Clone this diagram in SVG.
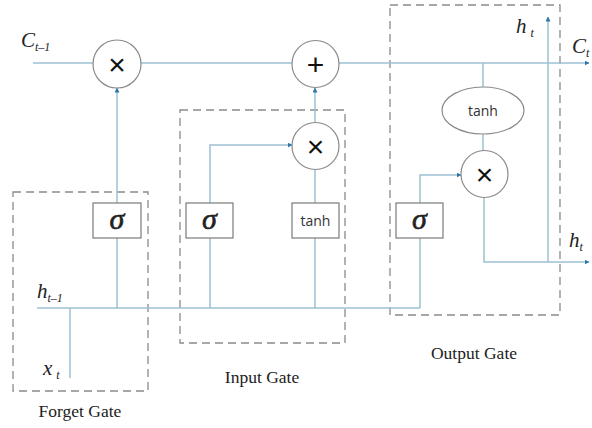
<svg xmlns="http://www.w3.org/2000/svg" width="592" height="428" viewBox="0 0 592 428">
<defs>
<marker id="arr" viewBox="0 0 10 10" refX="9" refY="5" markerWidth="5" markerHeight="5" orient="auto" markerUnits="userSpaceOnUse">
<path d="M0,0 L10,5 L0,10 z" fill="#2f77a6"/>
</marker>
</defs>
<style>
.ln{fill:none;stroke:#9cc0d4;stroke-width:1.5}
.ar{marker-end:url(#arr)}
.gate{fill:none;stroke:#8a8a8a;stroke-width:1.3;stroke-dasharray:8 5}
.op{fill:#fff;stroke:#8a8a8a;stroke-width:1.2}
.box{fill:#fff;stroke:#7a7a7a;stroke-width:1.2}
.sym{font-family:"Liberation Sans",Arial,sans-serif;font-size:30px;fill:#111;text-anchor:middle}
.sig{font-family:"Liberation Serif","Times New Roman",serif;font-style:italic;font-size:30px;fill:#222;stroke:#222;stroke-width:0.6;text-anchor:middle}
.tanh{font-family:"Open Sans","Liberation Sans",sans-serif;font-size:14px;fill:#333;text-anchor:middle}
.mth{font-family:"Liberation Serif","Times New Roman",serif;font-style:italic;font-size:21px;fill:#222}
.sub{font-family:"Liberation Serif","Times New Roman",serif;font-style:italic;font-size:12px;fill:#222}
.cap{font-family:"Liberation Serif","Times New Roman",serif;font-size:17.5px;fill:#222;text-anchor:middle}
</style>
<rect width="592" height="428" fill="#fff"/>
<g id="gates">
<rect id="forget-gate" class="gate" x="13" y="192" width="135" height="199"/>
<rect id="input-gate" class="gate" x="180" y="110" width="165" height="233"/>
<rect id="output-gate" class="gate" x="390" y="5" width="170" height="310"/>
</g>
<g id="connectors">
<path class="ln ar" d="M33,63 H589"/>
<path class="ln" d="M37,308 H420"/>
<path class="ln" d="M70,308 V378"/>
<path class="ln ar" d="M117,308 V88"/>
<path class="ln ar" d="M210,308 V145 H292"/>
<path class="ln" d="M315,308 V170"/>
<path class="ln ar" d="M315,122 V88"/>
<path class="ln ar" d="M420,308 V175 H461"/>
<path class="ln" d="M483,63 V151"/>
<path class="ln ar" d="M484,197 V262 H589"/>
<path class="ln ar" d="M548,262 V17"/>
</g>
<g id="forget-mul"><circle class="op" cx="117" cy="64" r="24"/><text class="sym" x="117" y="75">×</text></g>
<g id="add"><circle class="op" cx="315.5" cy="64" r="23.5"/><text class="sym" x="315.5" y="75">+</text></g>
<g id="input-mul"><circle class="op" cx="315.5" cy="146" r="23.5"/><text class="sym" x="315.5" y="157">×</text></g>
<g id="output-mul"><circle class="op" cx="484.5" cy="174" r="23.5"/><text class="sym" x="484.5" y="185">×</text></g>
<g id="output-tanh"><ellipse class="op" cx="483" cy="110.5" rx="41" ry="23.5"/><text class="tanh" x="483" y="115.5">tanh</text></g>
<g id="forget-sigma"><rect class="box" x="93" y="203" width="48" height="35"/><text class="sig" x="117" y="229">σ</text></g>
<g id="input-sigma"><rect class="box" x="186" y="203" width="47" height="35"/><text class="sig" x="209.5" y="229">σ</text></g>
<g id="input-tanh"><rect class="box" x="292" y="203" width="47" height="35"/><text class="tanh" x="315.5" y="225.5">tanh</text></g>
<g id="output-sigma"><rect class="box" x="396" y="203" width="47" height="35"/><text class="sig" x="419.5" y="229">σ</text></g>
<g id="labels">
<text class="mth" x="21" y="47">C<tspan class="sub" dy="4">t–1</tspan></text>
<text class="mth" x="572" y="53">C<tspan class="sub" dy="4">t</tspan></text>
<text class="mth" x="516" y="33">h<tspan class="sub" dx="4" dy="4">t</tspan></text>
<text class="mth" x="569" y="247">h<tspan class="sub" dy="4">t</tspan></text>
<text class="mth" x="37" y="298">h<tspan class="sub" dy="4">t–1</tspan></text>
<text class="mth" x="43" y="375">x<tspan class="sub" dx="4" dy="4">t</tspan></text>
<text class="cap" x="80" y="417">Forget Gate</text>
<text class="cap" x="262" y="383">Input Gate</text>
<text class="cap" x="474" y="359">Output Gate</text>
</g>
</svg>
